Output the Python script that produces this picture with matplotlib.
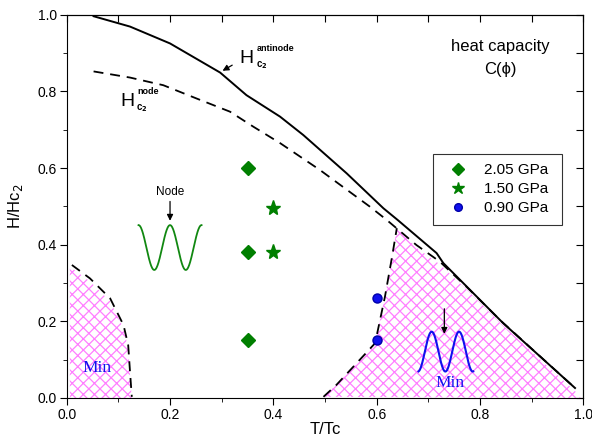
import numpy as np
import matplotlib.pyplot as plt
from matplotlib.ticker import MultipleLocator

plt.rcParams['font.family'] = ['Liberation Sans', 'DejaVu Sans']
plt.rcParams['hatch.color'] = '#ff7fff'
plt.rcParams['hatch.linewidth'] = 0.9

# Hc2 antinode (solid) and node (dashed) curves
anti_t = [0.052, 0.1225, 0.200, 0.297, 0.348, 0.413, 0.458, 0.542, 0.613, 0.641, 0.716, 0.729, 0.845, 0.984]
anti_h = [0.996, 0.969, 0.925, 0.849, 0.790, 0.734, 0.686, 0.586, 0.495, 0.464, 0.378, 0.352, 0.195, 0.026]

node_t = [0.052, 0.1225, 0.187, 0.252, 0.316, 0.361, 0.413, 0.490, 0.587, 0.619, 0.677, 0.722, 0.774, 0.839, 0.984]
node_h = [0.852, 0.836, 0.816, 0.781, 0.747, 0.708, 0.665, 0.595, 0.499, 0.465, 0.399, 0.356, 0.290, 0.203, 0.026]

# boundary of the high-T "Min" region
minr_t = [0.497, 0.522, 0.560, 0.597, 0.616, 0.630, 0.639]
minr_h = [0.003, 0.034, 0.089, 0.143, 0.264, 0.370, 0.443]

# boundary of the low-T "Min" region
minl_t = [0.010, 0.045, 0.084, 0.110, 0.119, 0.1225, 0.126]
minl_h = [0.347, 0.312, 0.260, 0.190, 0.138, 0.069, 0.003]

# measurement points
t_205 = [0.35, 0.35, 0.35]
h_205 = [0.60, 0.38, 0.15]
t_150 = [0.40, 0.40]
h_150 = [0.495, 0.38]
t_090 = [0.60, 0.60]
h_090 = [0.26, 0.15]

green = '#007f00'
blue = '#1010ee'
dash = (5.5, 3.8)

fig = plt.figure(figsize=(5.92, 4.36), dpi=100)
ax = fig.add_axes([0.1127, 0.0872, 0.8726, 0.8791])

# hatched regions
rt = minr_t + [0.677, 0.722, 0.774, 0.839, 0.984, 0.995]
rh = minr_h + [0.392, 0.349, 0.283, 0.196, 0.018, 0.0]
ax.fill(rt, rh, facecolor='none', edgecolor='#ff7fff', hatch='xxx', linewidth=0)
lt = [0.006] + minl_t + [0.006]
lh = [0.340] + [v - 0.008 for v in minl_h[:-1]] + [0.0, 0.0]
ax.fill(lt, lh, facecolor='none', edgecolor='#ff7fff', hatch='xxx', linewidth=0)

ax.plot(anti_t, anti_h, color='black', lw=1.4)
ax.plot(node_t, node_h, color='black', lw=1.3, dashes=dash)
ax.plot(minr_t, minr_h, color='black', lw=1.3, dashes=dash)
ax.plot(minl_t, minl_h, color='black', lw=1.3, dashes=dash)

ax.plot(t_205, h_205, 'D', color=green, ms=7, ls='none', label='2.05 GPa')
ax.plot(t_150, h_150, '*', color=green, ms=11, ls='none', label='1.50 GPa')
ax.plot(t_090, h_090, 'o', color=blue, mec='#0000aa', ms=6.5, ls='none', label='0.90 GPa')

# schematic gap shapes
xs = np.linspace(0.139, 0.261, 200)
ax.plot(xs, 0.3925 + 0.0585 * np.cos(2 * np.pi * (xs - 0.2) / 0.061), color='#118811', lw=1.3)
xs = np.linspace(0.681, 0.787, 200)
ax.plot(xs, 0.121 - 0.052 * np.cos(2 * np.pi * (xs - 0.733) / 0.053), color=blue, lw=1.5)

ax.annotate('', xy=(0.2, 0.455), xytext=(0.2, 0.52),
            arrowprops=dict(arrowstyle='-|>', color='black', lw=0.9, mutation_scale=9))
ax.annotate('', xy=(0.731, 0.16), xytext=(0.731, 0.24),
            arrowprops=dict(arrowstyle='-|>', color='black', lw=0.9, mutation_scale=9))
ax.annotate('', xy=(0.297, 0.85), xytext=(0.325, 0.872),
            arrowprops=dict(arrowstyle='-|>', color='black', lw=0.9, mutation_scale=9))

ax.text(0.2, 0.538, 'Node', ha='center', va='center', fontsize=8.5)
ax.text(0.84, 0.917, 'heat capacity', ha='center', va='center', fontsize=12)
ax.text(0.84, 0.858, 'C(\u03d5)', ha='center', va='center', fontsize=12)

ax.text(0.335, 0.885, 'H', fontsize=14, va='center')
ax.text(0.368, 0.912, 'antinode', fontsize=6.5, fontweight='bold', va='center')
ax.text(0.366, 0.868, r'c$_{\mathbf{2}}$', fontsize=7, fontweight='bold', va='center')

ax.text(0.104, 0.773, 'H', fontsize=14, va='center')
ax.text(0.137, 0.8, 'node', fontsize=6.5, fontweight='bold', va='center')
ax.text(0.135, 0.756, r'c$_{\mathbf{2}}$', fontsize=7, fontweight='bold', va='center')

ax.text(0.0596, 0.078, 'Min', color=blue, family='Liberation Serif', fontsize=12.5, ha='center', va='center')
ax.text(0.742, 0.039, 'Min', color=blue, family='Liberation Serif', fontsize=12.5, ha='center', va='center')

ax.set_xlim(0, 1.0)
ax.set_ylim(0, 1.0)
ax.xaxis.set_major_locator(MultipleLocator(0.2))
ax.xaxis.set_minor_locator(MultipleLocator(0.1))
ax.yaxis.set_major_locator(MultipleLocator(0.2))
ax.yaxis.set_minor_locator(MultipleLocator(0.1))
ax.tick_params(which='both', direction='out', labelsize=10, pad=2)
ax.tick_params(which='major', length=5)
ax.tick_params(which='minor', length=3)
sec_x = ax.secondary_xaxis('top')
sec_x.xaxis.set_major_locator(MultipleLocator(0.1))
sec_x.tick_params(direction='in', length=5, labeltop=False)
sec_y = ax.secondary_yaxis('right')
sec_y.yaxis.set_major_locator(MultipleLocator(0.1))
sec_y.tick_params(direction='in', length=5, labelright=False)

ax.set_xlabel('T/Tc', fontsize=12, labelpad=0)
ax.set_ylabel(r'H/Hc$_2$', fontsize=12, labelpad=9)

leg = ax.legend(loc='upper left', bbox_to_anchor=(0.709, 0.4566, 0.2497, 0.18),
                mode='expand', borderaxespad=0, fontsize=11,
                frameon=True, fancybox=False, edgecolor='black', handlelength=2.1,
                handletextpad=0.6, labelspacing=0.32, borderpad=0.62, markerscale=0.85)
leg.get_frame().set_linewidth(0.8)

fig.savefig('out.png', dpi=100)
